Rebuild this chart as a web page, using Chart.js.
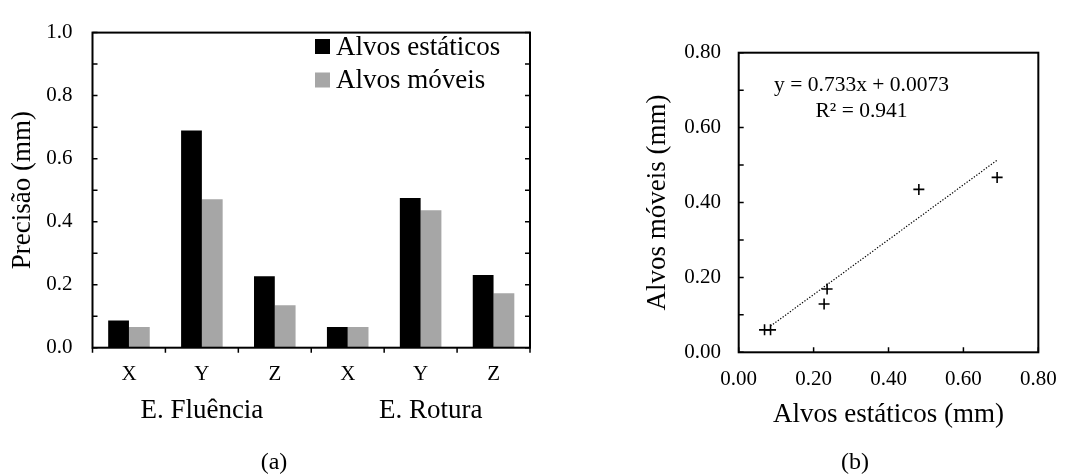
<!DOCTYPE html>
<html><head><meta charset="utf-8">
<script src="https://cdn.jsdelivr.net/npm/chart.js@4/dist/chart.umd.min.js"></script>
<style>
html,body{margin:0;padding:0;background:#fff;}
#wrap{position:relative;width:1071px;height:475px;overflow:hidden;}
canvas{position:absolute;top:0;}
#ca{left:0;} #cb{left:540px;}
</style></head><body>
<div id="wrap"><canvas id="ca" width="540" height="475"></canvas><canvas id="cb" width="531" height="475"></canvas></div>
<script>
// ---- data ----
const categories = ['X', 'Y', 'Z', 'X', 'Y', 'Z'];
const groupLabels = ['E. Fluência', 'E. Rotura'];
const seriesNames = ['Alvos estáticos', 'Alvos móveis'];
const estaticos = [0.086, 0.689, 0.227, 0.066, 0.475, 0.231];
const moveis = [0.066, 0.471, 0.135, 0.066, 0.436, 0.173];
const scatterEstaticos = [0.069, 0.085, 0.228, 0.236, 0.481, 0.690];
const scatterMoveis = [0.060, 0.060, 0.129, 0.169, 0.435, 0.467];
const trendX = [0.085, 0.690];
const trendY = [0.070, 0.513];
const equationLines = ['y = 0.733x + 0.0073', 'R² = 0.941'];
const yTitleA = 'Precisão (mm)';
const xTitleB = 'Alvos estáticos (mm)';
const yTitleB = 'Alvos móveis (mm)';
const captionA = '(a)';
const captionB = '(b)';

const FONT = 'Liberation Serif';
Chart.defaults.font.family = FONT;
Chart.defaults.color = '#000';
Chart.defaults.animation = false;

const framePlugin = {
  id: 'frame',
  afterDatasetsDraw(chart, args, opts) {
    const {ctx, chartArea: a} = chart;
    const len = opts.len || 5;
    ctx.save();
    ctx.strokeStyle = '#000';
    ctx.lineWidth = 1.5;
    ctx.beginPath();
    const ys = chart.scales.y;
    ys.ticks.forEach(t => {
      const p = ys.getPixelForValue(t.value);
      ctx.moveTo(a.left, p); ctx.lineTo(a.left + len, p);
      if (opts.rightTicks) { ctx.moveTo(a.right, p); ctx.lineTo(a.right - len, p); }
    });
    const xs = chart.scales.x;
    if (xs.type === 'category') {
      const n = xs.ticks.length;
      const step = xs.getPixelForValue(1) - xs.getPixelForValue(0);
      for (let i = 0; i <= n; i++) {
        const p = xs.getPixelForValue(0) - step / 2 + i * step;
        ctx.moveTo(p, a.bottom); ctx.lineTo(p, a.bottom + len);
      }
    } else {
      xs.ticks.forEach(t => {
        const p = xs.getPixelForValue(t.value);
        ctx.moveTo(p, a.bottom); ctx.lineTo(p, a.bottom - len);
      });
    }
    ctx.stroke();
    ctx.lineWidth = 2;
    ctx.strokeRect(a.left, a.top, a.right - a.left, a.bottom - a.top);
    ctx.restore();
  }
};

const textPlugin = {
  id: 'texts',
  afterDraw(chart, args, opts) {
    const ctx = chart.ctx;
    ctx.save();
    ctx.fillStyle = '#000';
    ctx.textBaseline = 'middle';
    (opts.items ? opts.items(chart) : []).forEach(it => {
      ctx.font = it.size + 'px "' + FONT + '"';
      ctx.textAlign = it.align || 'center';
      ctx.fillText(it.text, it.x, it.y);
    });
    ctx.restore();
  }
};

const legendPlugin = {
  id: 'boxLegend',
  afterDraw(chart, args, opts) {
    if (!opts.show) return;
    const ctx = chart.ctx;
    ctx.save();
    ctx.textBaseline = 'middle';
    ctx.textAlign = 'left';
    ctx.font = opts.size + 'px "' + FONT + '"';
    chart.data.datasets.forEach((ds, i) => {
      const cy = opts.y + i * opts.gap;
      ctx.fillStyle = ds.backgroundColor;
      ctx.fillRect(opts.x, cy - opts.box / 2, opts.box, opts.box);
      ctx.fillStyle = '#000';
      ctx.fillText(ds.label, opts.x + opts.box + 6, cy + 1);
    });
    ctx.restore();
  }
};

// ---- chart (a) ----
new Chart(document.getElementById('ca'), {
  type: 'bar',
  data: {
    labels: categories,
    datasets: [
      {label: seriesNames[0], data: estaticos, backgroundColor: '#000000', categoryPercentage: 0.57, barPercentage: 1.0},
      {label: seriesNames[1], data: moveis, backgroundColor: '#a6a6a6', categoryPercentage: 0.57, barPercentage: 1.0}
    ]
  },
  options: {
    responsive: false,
    layout: {padding: {left: 0, top: 20.7, right: 10, bottom: 0}},
    plugins: {
      legend: {display: false},
      tooltip: {enabled: false},
      frame: {len: 5, rightTicks: true},
      boxLegend: {show: true, x: 315, y: 46.5, gap: 33.5, box: 15, size: 27},
      texts: {
        items: (chart) => {
          const xs = chart.scales.x;
          const c0 = (xs.getPixelForValue(0) + xs.getPixelForValue(2)) / 2;
          const c1 = (xs.getPixelForValue(3) + xs.getPixelForValue(5)) / 2 + 10;
          return [
            {text: groupLabels[0], x: c0, y: 410.7, size: 27},
            {text: groupLabels[1], x: c1, y: 410.7, size: 27},
            {text: captionA, x: 274, y: 463, size: 24}
          ];
        }
      }
    },
    scales: {
      x: {
        type: 'category', offset: true,
        grid: {display: false, drawTicks: false}, border: {display: false},
        ticks: {font: {size: 21}, padding: 13.7, maxRotation: 0, autoSkip: false},
        afterFit(s) { s.height = 127.3; }
      },
      y: {
        min: 0, max: 1,
        grid: {display: false, drawTicks: false}, border: {display: false},
        ticks: {stepSize: 0.1, padding: 20, font: {size: 21},
          callback: (v) => (Math.round(v * 10) % 2 === 0 ? Number(v).toFixed(1) : '')},
        title: {display: true, text: yTitleA, font: {size: 27}, padding: {top: 6.8, bottom: 0}},
        afterFit(s) { s.width = 92.5; }
      }
    }
  },
  plugins: [framePlugin, textPlugin, legendPlugin]
});

// ---- chart (b) ----
new Chart(document.getElementById('cb'), {
  type: 'scatter',
  data: {
    datasets: [
      {type: 'line', label: 'Linear', data: trendX.map((x, i) => ({x, y: trendY[i]})),
        borderColor: '#000', borderWidth: 1.2, borderDash: [1.3, 1.7], pointRadius: 0, fill: false},
      {type: 'scatter', label: 'Dados', data: scatterEstaticos.map((x, i) => ({x, y: scatterMoveis[i]})),
        pointStyle: 'cross', pointRadius: 5.5, borderWidth: 1.6, borderColor: '#000', backgroundColor: '#000'}
    ]
  },
  options: {
    responsive: false,
    layout: {padding: {left: 0, top: 52.7, right: 21, bottom: 0}},
    plugins: {
      legend: {display: false},
      tooltip: {enabled: false},
      frame: {len: 5, rightTicks: false},
      boxLegend: {show: false},
      texts: {
        items: () => [
          {text: equationLines[0], x: 321.5, y: 85.4, size: 21.5},
          {text: equationLines[1], x: 321.5, y: 111, size: 21.5},
          {text: captionB, x: 315, y: 463, size: 24}
        ]
      }
    },
    scales: {
      x: {
        type: 'linear', min: 0, max: 0.8,
        grid: {display: false, drawTicks: false}, border: {display: false},
        ticks: {stepSize: 0.1, padding: 14.3, font: {size: 21}, maxRotation: 0,
          callback: (v) => (Math.round(v * 10) % 2 === 0 ? Number(v).toFixed(2) : '')},
        title: {display: true, text: xTitleB, font: {size: 27}, padding: {top: 0, bottom: 43.8}},
        afterFit(s) { s.height = 122.7; }
      },
      y: {
        type: 'linear', min: 0, max: 0.8,
        grid: {display: false, drawTicks: false}, border: {display: false},
        ticks: {stepSize: 0.1, padding: 17.7, font: {size: 21},
          callback: (v) => (Math.round(v * 10) % 2 === 0 ? Number(v).toFixed(2) : '')},
        title: {display: true, text: yTitleB, font: {size: 27}, padding: {top: 101.7, bottom: 0}},
        afterFit(s) { s.width = 198.7; }
      }
    }
  },
  plugins: [framePlugin, textPlugin, legendPlugin]
});
</script>
</body></html>
